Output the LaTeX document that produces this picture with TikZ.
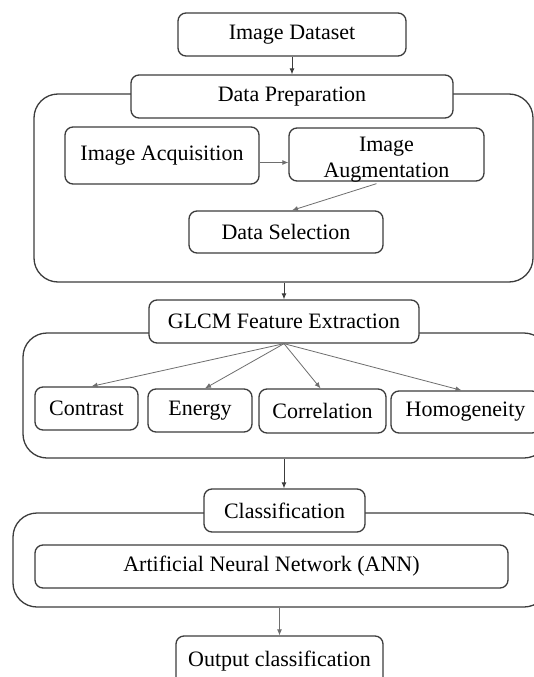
\documentclass[tikz,border=0pt]{standalone}
\usepackage{fontspec}
\setmainfont{Liberation Serif}
\usetikzlibrary{arrows.meta}
\definecolor{edge}{HTML}{3C3C3C}
\definecolor{arr}{HTML}{6E6E6E}
\begin{document}
\begin{tikzpicture}[x=1pt,y=-1pt,
  box/.style={draw=edge, line width=1.3pt, rounded corners=8pt, fill=white,
    inner sep=0pt, align=center, font=\fontsize{22}{26}\selectfont},
  container/.style={draw=edge, line width=1.3pt, rounded corners=24pt, inner sep=0pt},
  conn/.style={draw=arr, line width=0.8pt, -{Latex[length=6pt,width=5pt]}},
  connd/.style={draw=edge, line width=0.9pt, -{Latex[length=6pt,width=5pt]}}]
\useasboundingbox (0,0) rectangle (534,677);
\fill[white] (0,0) rectangle (534,677);
% containers
\node[container, minimum width=499pt, minimum height=188pt] (c1) at (283.5,188) {};
\node[container, minimum width=525pt, minimum height=125pt] (c2) at (285.5,395.5) {};
\node[container, minimum width=535pt, minimum height=94pt] (c3) at (280.5,560) {};
% boxes
\node[box, minimum width=228pt, minimum height=43pt] (ds) at (292,34.5) {Image Dataset};
\node[box, minimum width=322pt, minimum height=43pt] (dp) at (292,96.5) {Data Preparation};
\node[box, minimum width=194pt, minimum height=57pt] (acq) at (162,155.5) {Image Acquisition};
\node[box, minimum width=195pt, minimum height=53pt] (aug) at (386.5,154.5)
  {\setbox0\hbox{\parbox{190pt}{\centering Image\\Augmentation}}\raisebox{-5pt}[\ht0][\dp0]{\copy0}};
\node[box, minimum width=194pt, minimum height=42pt] (sel) at (286,232) {Data Selection};
\node[box, minimum width=270pt, minimum height=43pt] (glcm) at (284,321.5) {GLCM Feature Extraction};
\node[box, minimum width=103pt, minimum height=43pt] (con) at (86.5,408.5) {Contrast};
\node[box, minimum width=104pt, minimum height=43pt] (ene) at (200,410.5) {Energy};
\node[box, minimum width=127pt, minimum height=44pt] (cor) at (322.5,411) {Correlation};
\node[box, minimum width=149pt, minimum height=42pt] (hom) at (465.5,412) {Homogeneity};
\node[box, minimum width=161pt, minimum height=43pt] (cls) at (284.5,510.5) {Classification};
\node[box, minimum width=473pt, minimum height=43pt] (ann) at (271.5,566.5) {Artificial Neural Network (ANN)};
\node[box, minimum width=207pt, minimum height=50pt] (out) at (279.5,661) {Output classification};
% connectors
\draw[connd] (ds.south) -- (dp.north);
\draw[conn] ([yshift=-7pt]acq.east) -- ([yshift=-7pt]acq.east -| aug.west);
\draw[conn] ([xshift=-10pt,yshift=-2pt]aug.south) -- ([xshift=6pt]sel.north);
\draw[connd] (c1.south -| glcm.north) -- (glcm.north);
\draw[conn] (glcm.south) -- ([xshift=5pt]con.north);
\draw[conn] (glcm.south) -- ([xshift=5pt]ene.north);
\draw[conn] (glcm.south) -- ([xshift=-2pt]cor.north);
\draw[conn] (glcm.south) -- ([xshift=-4pt]hom.north);
\draw[connd] (c2.south -| glcm.north) -- (cls.north -| glcm.north);
\draw[conn] (c3.south -| out.north) -- (out.north);
\end{tikzpicture}
\end{document}
